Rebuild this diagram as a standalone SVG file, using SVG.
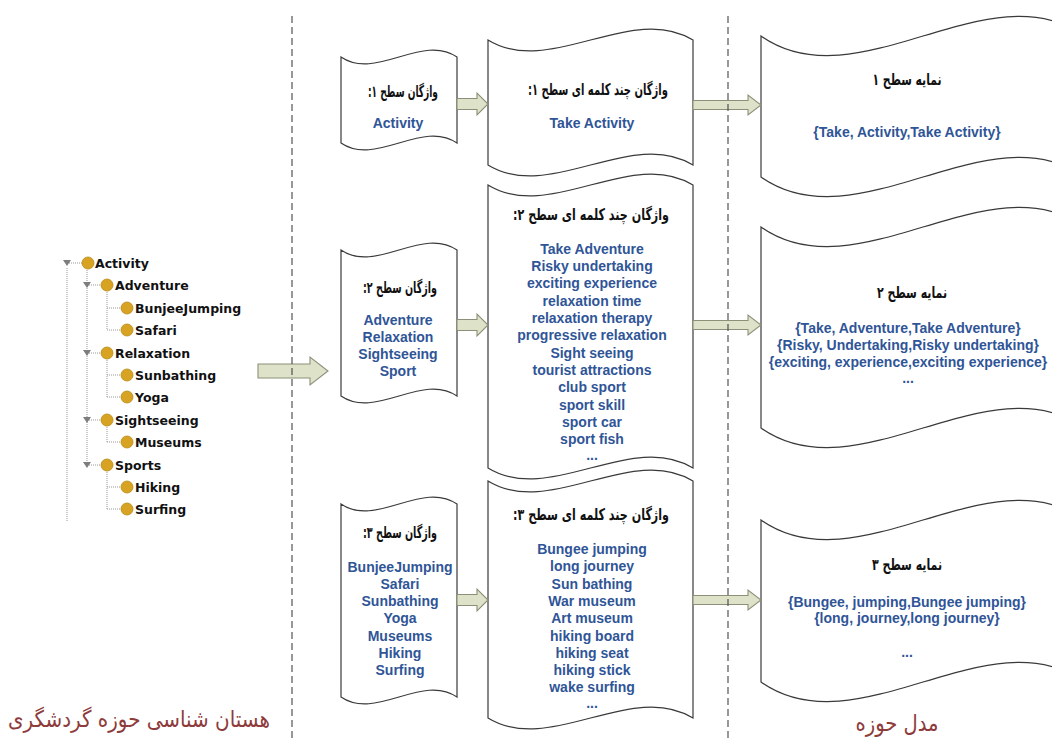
<svg xmlns="http://www.w3.org/2000/svg" width="1052" height="738" viewBox="0 0 1052 738">
<style>
.doc{fill:#fff;stroke:#3a3a3a;stroke-width:1.2}
.arr{fill:#dde2c9;stroke:#8a9178;stroke-width:1.1}
.dash{stroke:#444;stroke-width:1.1;stroke-dasharray:7,4;fill:none}
.blue{font-family:'Liberation Sans',Arial,sans-serif;font-weight:bold;font-size:14px;fill:#2f5597;text-anchor:middle}
.fa{font-family:'DejaVu Sans',sans-serif;font-weight:bold;font-size:16px;fill:#111;text-anchor:middle;direction:rtl}
.red{font-family:'DejaVu Sans',sans-serif;font-size:23px;fill:#8e3b3b;text-anchor:middle;direction:rtl}
.tree{font-family:'DejaVu Sans',sans-serif;font-weight:bold;font-size:12.5px;fill:#111}
.tl{stroke:#9a9a9a;stroke-width:1;stroke-dasharray:1,1;fill:none}
.dot{fill:#d8a323;stroke:#b88a17;stroke-width:0.8}
.tri{fill:#7d7d7d}
</style>

<g id="ontology-tree">
  <line class="tl" x1="67" y1="268" x2="67" y2="521"/>
  <line class="tl" x1="67" y1="263" x2="82" y2="263"/>
  <line class="tl" x1="87" y1="270" x2="87" y2="465"/>
  <line class="tl" x1="87" y1="285" x2="101" y2="285"/>
  <line class="tl" x1="87" y1="353" x2="101" y2="353"/>
  <line class="tl" x1="87" y1="420" x2="101" y2="420"/>
  <line class="tl" x1="87" y1="465" x2="101" y2="465"/>
  <line class="tl" x1="107" y1="292" x2="107" y2="330"/>
  <line class="tl" x1="107" y1="308" x2="121" y2="308"/>
  <line class="tl" x1="107" y1="330" x2="121" y2="330"/>
  <line class="tl" x1="107" y1="360" x2="107" y2="397"/>
  <line class="tl" x1="107" y1="375" x2="121" y2="375"/>
  <line class="tl" x1="107" y1="397" x2="121" y2="397"/>
  <line class="tl" x1="107" y1="427" x2="107" y2="442"/>
  <line class="tl" x1="107" y1="442" x2="121" y2="442"/>
  <line class="tl" x1="107" y1="472" x2="107" y2="509"/>
  <line class="tl" x1="107" y1="487" x2="121" y2="487"/>
  <line class="tl" x1="107" y1="509" x2="121" y2="509"/>
  <path class="tri" d="M63,260 L71,260 L67,266 Z"/>
  <path class="tri" d="M83,282 L91,282 L87,288 Z"/>
  <path class="tri" d="M83,350 L91,350 L87,356 Z"/>
  <path class="tri" d="M83,417 L91,417 L87,423 Z"/>
  <path class="tri" d="M83,462 L91,462 L87,468 Z"/>
  <circle class="dot" cx="88" cy="263" r="6"/>
  <circle class="dot" cx="107" cy="285" r="6"/>
  <circle class="dot" cx="127" cy="308" r="6"/>
  <circle class="dot" cx="127" cy="330" r="6"/>
  <circle class="dot" cx="107" cy="353" r="6"/>
  <circle class="dot" cx="127" cy="375" r="6"/>
  <circle class="dot" cx="127" cy="397" r="6"/>
  <circle class="dot" cx="107" cy="420" r="6"/>
  <circle class="dot" cx="127" cy="442" r="6"/>
  <circle class="dot" cx="107" cy="465" r="6"/>
  <circle class="dot" cx="127" cy="487" r="6"/>
  <circle class="dot" cx="127" cy="509" r="6"/>
  <text class="tree" x="95" y="268">Activity</text>
  <text class="tree" x="115" y="290">Adventure</text>
  <text class="tree" x="135" y="313">BunjeeJumping</text>
  <text class="tree" x="135" y="335">Safari</text>
  <text class="tree" x="115" y="358">Relaxation</text>
  <text class="tree" x="135" y="380">Sunbathing</text>
  <text class="tree" x="135" y="402">Yoga</text>
  <text class="tree" x="115" y="425">Sightseeing</text>
  <text class="tree" x="135" y="447">Museums</text>
  <text class="tree" x="115" y="470">Sports</text>
  <text class="tree" x="135" y="492">Hiking</text>
  <text class="tree" x="135" y="514">Surfing</text>
</g>

<g id="vocab-1">
  <path class="doc" d="M341,57 C375.8,81 422.2,33 457,57 L457,143 C422.2,119 375.8,167 341,143 Z"/>
  <text class="fa" x="403" y="97" textLength="70" lengthAdjust="spacingAndGlyphs">واژگان سطح ۱:</text>
  <text class="blue" x="398" y="128">Activity</text>
</g>
<g id="vocab-2">
  <path class="doc" d="M341,250 C375.8,274 422.2,226 457,250 L457,396 C422.2,372 375.8,420 341,396 Z"/>
  <text class="fa" x="400" y="293" textLength="74" lengthAdjust="spacingAndGlyphs">واژگان سطح ۲:</text>
  <text class="blue" x="398" y="325">Adventure</text>
  <text class="blue" x="398" y="342">Relaxation</text>
  <text class="blue" x="398" y="359">Sightseeing</text>
  <text class="blue" x="398" y="376">Sport</text>
</g>
<g id="vocab-3">
  <path class="doc" d="M341,504 C375.8,528 422.2,480 457,504 L457,697 C422.2,673 375.8,721 341,697 Z"/>
  <text class="fa" x="400" y="538" textLength="74" lengthAdjust="spacingAndGlyphs">واژگان سطح ۳:</text>
  <text class="blue" x="400" y="572">BunjeeJumping</text>
  <text class="blue" x="400" y="589">Safari</text>
  <text class="blue" x="400" y="606">Sunbathing</text>
  <text class="blue" x="400" y="623">Yoga</text>
  <text class="blue" x="400" y="641">Museums</text>
  <text class="blue" x="400" y="658">Hiking</text>
  <text class="blue" x="400" y="675">Surfing</text>
</g>

<g id="multiword-1">
  <path class="doc" d="M488,40 C549.5,78 631.5,2 693,40 L693,165 C631.5,127 549.5,203 488,165 Z"/>
  <text class="fa" x="598" y="95" textLength="140" lengthAdjust="spacingAndGlyphs">واژگان چند کلمه ای سطح ۱:</text>
  <text class="blue" x="592" y="128">Take Activity</text>
</g>
<g id="multiword-2">
  <path class="doc" d="M488,185 C549.5,223 631.5,147 693,185 L693,468 C631.5,430 549.5,506 488,468 Z"/>
  <text class="fa" x="591" y="220" textLength="156" lengthAdjust="spacingAndGlyphs">واژگان چند کلمه ای سطح ۲:</text>
  <text class="blue" x="592" y="253.5">Take Adventure</text>
  <text class="blue" x="592" y="270.85">Risky undertaking</text>
  <text class="blue" x="592" y="288.2">exciting experience</text>
  <text class="blue" x="592" y="305.55">relaxation time</text>
  <text class="blue" x="592" y="322.9">relaxation therapy</text>
  <text class="blue" x="592" y="340.25">progressive relaxation</text>
  <text class="blue" x="592" y="357.6">Sight seeing</text>
  <text class="blue" x="592" y="374.95">tourist attractions</text>
  <text class="blue" x="592" y="392.3">club sport</text>
  <text class="blue" x="592" y="409.65">sport skill</text>
  <text class="blue" x="592" y="427">sport car</text>
  <text class="blue" x="592" y="444.35">sport fish</text>
  <text class="blue" x="592" y="460">...</text>
</g>
<g id="multiword-3">
  <path class="doc" d="M488,481 C549.5,519 631.5,443 693,481 L693,718 C631.5,680 549.5,756 488,718 Z"/>
  <text class="fa" x="591" y="520" textLength="156" lengthAdjust="spacingAndGlyphs">واژگان چند کلمه ای سطح ۳:</text>
  <text class="blue" x="592" y="554">Bungee jumping</text>
  <text class="blue" x="592" y="571.3">long journey</text>
  <text class="blue" x="592" y="588.6">Sun bathing</text>
  <text class="blue" x="592" y="605.9">War museum</text>
  <text class="blue" x="592" y="623.2">Art museum</text>
  <text class="blue" x="592" y="640.5">hiking board</text>
  <text class="blue" x="592" y="657.8">hiking seat</text>
  <text class="blue" x="592" y="675.1">hiking stick</text>
  <text class="blue" x="592" y="692.4">wake surfing</text>
  <text class="blue" x="592" y="708">...</text>
</g>

<g id="index-1">
  <path class="doc" d="M761,36 C858.2,104 987.8,-32 1085,36 L1085,177 C987.8,109 858.2,245 761,177 Z"/>
  <text class="fa" x="907" y="85" textLength="69" lengthAdjust="spacingAndGlyphs">نمایه سطح ۱</text>
  <text class="blue" x="907" y="137">{Take, Activity,Take Activity}</text>
</g>
<g id="index-2">
  <path class="doc" d="M761,227 C858.2,295 987.8,159 1085,227 L1085,428 C987.8,360 858.2,496 761,428 Z"/>
  <text class="fa" x="912" y="298" textLength="70" lengthAdjust="spacingAndGlyphs">نمایه سطح ۲</text>
  <text class="blue" x="908" y="333">{Take, Adventure,Take Adventure}</text>
  <text class="blue" x="908" y="350">{Risky, Undertaking,Risky undertaking}</text>
  <text class="blue" x="908" y="367">{exciting, experience,exciting experience}</text>
  <text class="blue" x="908" y="383">...</text>
</g>
<g id="index-3">
  <path class="doc" d="M761,520 C858.2,588 987.8,452 1085,520 L1085,682 C987.8,614 858.2,750 761,682 Z"/>
  <text class="fa" x="907" y="570" textLength="70" lengthAdjust="spacingAndGlyphs">نمایه سطح ۳</text>
  <text class="blue" x="907" y="607">{Bungee, jumping,Bungee jumping}</text>
  <text class="blue" x="907" y="623">{long, journey,long journey}</text>
  <text class="blue" x="907" y="657">...</text>
</g>

<g id="connectors">
  <path class="arr" d="M258,364 L310,364 L310,357 L328,371 L310,385 L310,378 L258,378 Z"/>
  <path class="arr" d="M457,98.5 L477,98.5 L477,93 L488,104 L477,115 L477,109.5 L457,109.5 Z"/>
  <path class="arr" d="M457,319.5 L477,319.5 L477,314 L488,325 L477,336 L477,330.5 L457,330.5 Z"/>
  <path class="arr" d="M457,594.5 L477,594.5 L477,589 L488,600 L477,611 L477,605.5 L457,605.5 Z"/>
  <path class="arr" d="M693,100.5 L748,100.5 L748,95 L761,105 L748,115 L748,109.5 L693,109.5 Z"/>
  <path class="arr" d="M693,320.5 L748,320.5 L748,315 L761,325 L748,335 L748,329.5 L693,329.5 Z"/>
  <path class="arr" d="M693,595.5 L748,595.5 L748,590 L761,600 L748,610 L748,604.5 L693,604.5 Z"/>
</g>

<g id="dividers">
  <line class="dash" x1="292" y1="16" x2="292" y2="738"/>
  <line class="dash" x1="728" y1="16" x2="728" y2="738"/>
</g>

<g id="labels">
  <text class="red" x="139" y="727" textLength="262" lengthAdjust="spacingAndGlyphs">هستان شناسی حوزه گردشگری</text>
  <text class="red" x="897" y="731" textLength="83" lengthAdjust="spacingAndGlyphs">مدل حوزه</text>
</g>
</svg>
